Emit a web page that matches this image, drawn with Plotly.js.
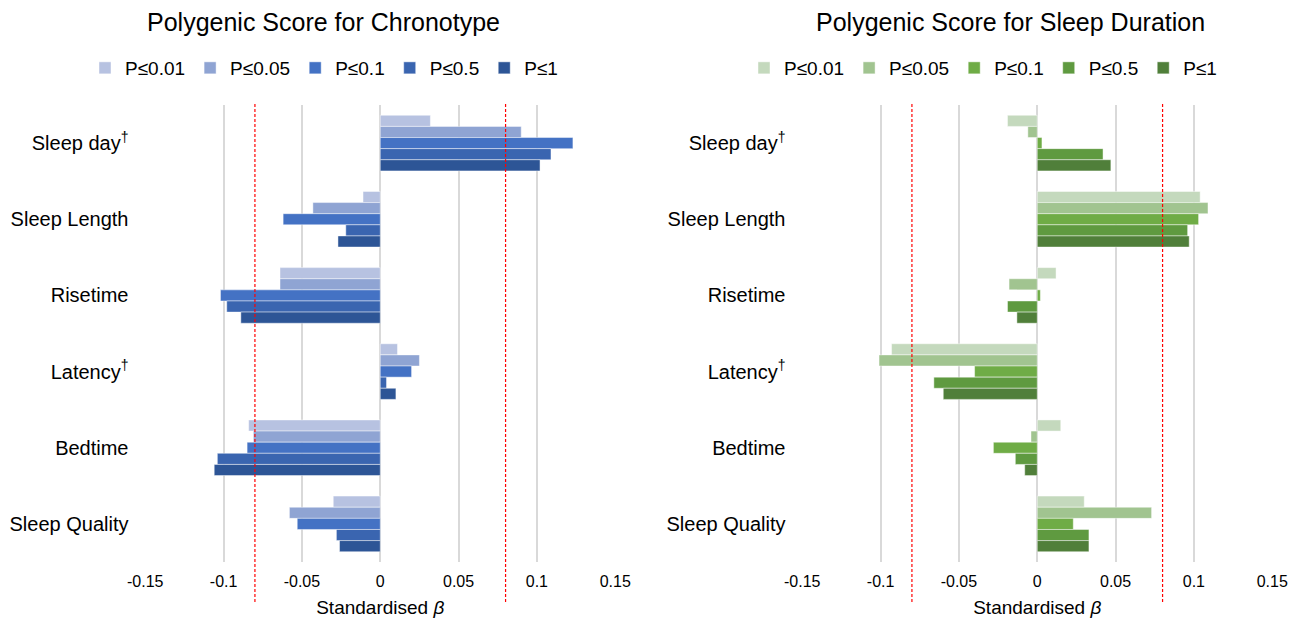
<!DOCTYPE html>
<html>
<head>
<meta charset="utf-8">
<script src="https://cdn.plot.ly/plotly-3.0.1.min.js"></script>
<style>html,body{margin:0;padding:0;background:#fff;}#chart{width:1303px;height:618px;}</style>
</head>
<body>
<div id="chart"></div>
<script>
// ---- data ----
var categories = ["Sleep day<sup>†</sup>", "Sleep Length", "Risetime", "Latency<sup>†</sup>", "Bedtime", "Sleep Quality"];
var seriesNames = ["P≤0.01", "P≤0.05", "P≤0.1", "P≤0.5", "P≤1"];

// Polygenic score for chronotype (standardised beta)
var chrono_p001 = [0.032, -0.011, -0.064, 0.011, -0.084, -0.030];
var chrono_p005 = [0.090, -0.043, -0.064, 0.025, -0.081, -0.058];
var chrono_p01  = [0.123, -0.062, -0.102, 0.020, -0.085, -0.053];
var chrono_p05  = [0.109, -0.022, -0.098, 0.004, -0.104, -0.028];
var chrono_p1   = [0.102, -0.027, -0.089, 0.010, -0.106, -0.026];

// Polygenic score for sleep duration (standardised beta)
var dur_p001 = [-0.019, 0.104, 0.012, -0.093, 0.015, 0.030];
var dur_p005 = [-0.006, 0.109, -0.018, -0.101, -0.004, 0.073];
var dur_p01  = [0.003, 0.103, 0.002, -0.040, -0.028, 0.023];
var dur_p05  = [0.042, 0.096, -0.019, -0.066, -0.014, 0.033];
var dur_p1   = [0.047, 0.097, -0.013, -0.060, -0.008, 0.033];

var tickVals = [-0.15, -0.1, -0.05, 0, 0.05, 0.1, 0.15];
var tickText = ["-0.15", "-0.1", "-0.05", "0", "0.05", "0.1", "0.15"];
var thresholds = [-0.08, 0.08];

var blueColors  = ["#b7c2e1", "#8fa4d3", "#4472c4", "#3a65b0", "#2d5596"];
var greenColors = ["#c4d9bd", "#a1c490", "#6fac46", "#5f9a40", "#507f3a"];

// ---- traces ----
var chronoSeries = [chrono_p001, chrono_p005, chrono_p01, chrono_p05, chrono_p1];
var durSeries = [dur_p001, dur_p005, dur_p01, dur_p05, dur_p1];
var FONT = "Liberation Sans, Arial, sans-serif";
var traces = [];
chronoSeries.forEach(function (vals, i) {
  traces.push({
    type: "bar", orientation: "h", name: seriesNames[i],
    x: vals, y: categories, xaxis: "x", yaxis: "y", legend: "legend",
    marker: {color: blueColors[i], line: {color: "rgba(255,255,255,0.45)", width: 1}},
    hoverinfo: "x+y+name"
  });
});
durSeries.forEach(function (vals, i) {
  traces.push({
    type: "bar", orientation: "h", name: seriesNames[i],
    x: vals, y: categories, xaxis: "x2", yaxis: "y2", legend: "legend2",
    marker: {color: greenColors[i], line: {color: "rgba(255,255,255,0.45)", width: 1}},
    hoverinfo: "x+y+name"
  });
});

var yTop = 1 - 105 / 618, yBot = 1 - 562 / 618;

function xAxis(domain) {
  return {
    domain: domain, range: [-0.1505, 0.1505], tickmode: "array",
    tickvals: tickVals, ticktext: tickText,
    showgrid: true, gridcolor: "#d9d9d9", gridwidth: 1.5,
    zeroline: true, zerolinecolor: "#d9d9d9", zerolinewidth: 1.5,
    showline: false, ticks: "", ticklabelstandoff: 8,
    tickfont: {family: FONT, size: 16, color: "#000"},
    title: {text: "Standardised <i>β</i>", font: {family: FONT, size: 19, color: "#000"}, standoff: 12},
    automargin: false, fixedrange: true
  };
}
function yAxis(anchor) {
  return {
    domain: [yBot, yTop], anchor: anchor, autorange: "reversed",
    type: "category", showgrid: false, zeroline: false, showline: false, ticks: "",
    ticklabelstandoff: 15,
    tickfont: {family: FONT, size: 20, color: "#000"},
    automargin: false, fixedrange: true
  };
}

var shapes = [];
[["x", "y"], ["x2", "y2"]].forEach(function (ax) {
  thresholds.forEach(function (t) {
    shapes.push({
      type: "line", xref: ax[0], yref: "paper", x0: t, x1: t,
      y0: 1 - 602 / 618, y1: 1 - 103 / 618,
      line: {color: "#ff0000", width: 1.2, dash: "3px,2px"}, layer: "above"
    });
  });
});

var layout = {
  width: 1303, height: 618,
  margin: {l: 0, r: 0, t: 0, b: 0},
  paper_bgcolor: "#fff", plot_bgcolor: "#fff",
  barmode: "group", bargap: 0.27, bargroupgap: 0,
  font: {family: FONT, color: "#000"},
  xaxis: xAxis([144.5 / 1303, 616 / 1303]),
  yaxis: yAxis("x"),
  xaxis2: xAxis([801.5 / 1303, 1273 / 1303]),
  yaxis2: yAxis("x2"),
  shapes: shapes,
  legend: {
    orientation: "h", x: 324 / 1303, xanchor: "center", y: 1 - 68 / 618, yanchor: "middle",
    font: {family: FONT, size: 19, color: "#000"}, traceorder: "normal", itemwidth: 30,
    bgcolor: "rgba(0,0,0,0)"
  },
  legend2: {
    orientation: "h", x: 983 / 1303, xanchor: "center", y: 1 - 68 / 618, yanchor: "middle",
    font: {family: FONT, size: 19, color: "#000"}, traceorder: "normal", itemwidth: 30,
    bgcolor: "rgba(0,0,0,0)"
  },
  annotations: [
    {text: "Polygenic Score for Chronotype", xref: "paper", yref: "paper",
     x: 323 / 1303, y: 1 - 22 / 618, xanchor: "center", yanchor: "middle", showarrow: false,
     font: {family: FONT, size: 25, color: "#000"}},
    {text: "Polygenic Score for Sleep Duration", xref: "paper", yref: "paper",
     x: 1010 / 1303, y: 1 - 22 / 618, xanchor: "center", yanchor: "middle", showarrow: false,
     font: {family: FONT, size: 25, color: "#000"}}
  ],
  showlegend: true
};

Plotly.newPlot("chart", traces, layout, {displayModeBar: false});
</script>
</body>
</html>
